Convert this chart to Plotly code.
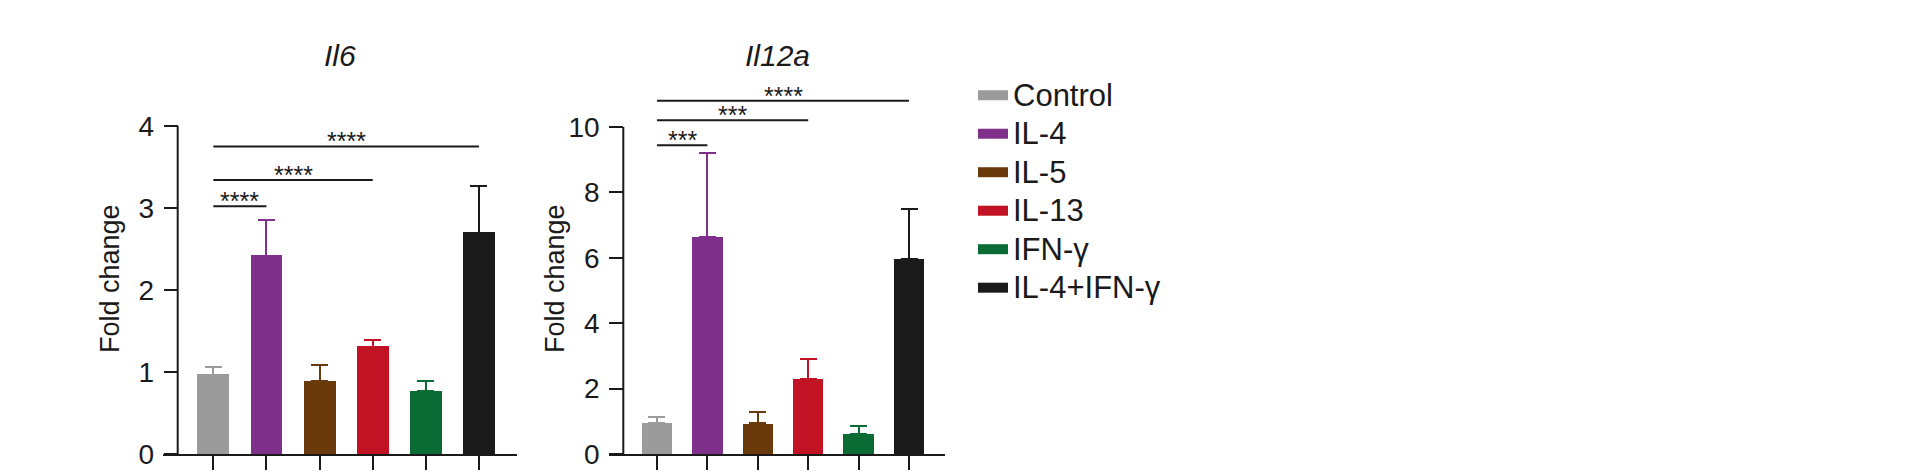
import plotly.graph_objects as go

# ---------------- data ----------------
categories = ["Control", "IL-4", "IL-5", "IL-13", "IFN-γ", "IL-4+IFN-γ"]
colors = ["#9b9b9b", "#7f308a", "#6b3a0c", "#c11324", "#0a6b34", "#1a1a1a"]

il6_mean = [0.97, 2.42, 0.89, 1.31, 0.77, 2.70]
il6_err = [0.09, 0.43, 0.20, 0.08, 0.12, 0.57]
il12a_mean = [0.96, 6.65, 0.94, 2.30, 0.62, 5.96]
il12a_err = [0.18, 2.57, 0.34, 0.61, 0.24, 1.52]

il6_ticks = [0, 1, 2, 3, 4]
il12a_ticks = [0, 2, 4, 6, 8, 10]

il6_sig_pairs = [("Control", "IL-4"), ("Control", "IL-13"), ("Control", "IL-4+IFN-γ")]
il6_sig_heights = [3.02, 3.34, 3.75]
il6_sig_labels = ["****", "****", "****"]

il12a_sig_pairs = [("Control", "IL-4"), ("Control", "IL-13"), ("Control", "IL-4+IFN-γ")]
il12a_sig_heights = [9.44, 10.21, 10.80]
il12a_sig_labels = ["***", "***", "****"]

titles = ["Il6", "Il12a"]
y_title = "Fold change"

# ---------------- layout helpers ----------------
FW, FH = 1920, 474
FONT = "Liberation Sans, Arial, sans-serif"
INK = "#1a1a1a"


def fx(p):
    return p / FW


def fy(p):
    return 1 - p / FH


panels = [
    dict(mean=il6_mean, err=il6_err, ticks=il6_ticks, pairs=il6_sig_pairs,
         heights=il6_sig_heights, labels=il6_sig_labels, title=titles[0],
         x0=163, x1=517, xr=[-0.947, 5.716], yaxis_px=177.7, ytitle_px=110,
         y0=454.3, ppu=82.1, ymax=4.3, ytop=4),
    dict(mean=il12a_mean, err=il12a_err, ticks=il12a_ticks, pairs=il12a_sig_pairs,
         heights=il12a_sig_heights, labels=il12a_sig_labels, title=titles[1],
         x0=609, x1=945, xr=[-0.952, 5.714], yaxis_px=623.3, ytitle_px=555,
         y0=454, ppu=32.7, ymax=11.6, ytop=10),
]

fig = go.Figure()
shapes = []
annotations = []
layout_axes = {}

for k, pnl in enumerate(panels):
    n = "" if k == 0 else str(k + 1)
    xa, ya = "x" + n, "y" + n
    ytop_px = pnl["y0"] - pnl["ymax"] * pnl["ppu"]

    for i, cat in enumerate(categories):
        fig.add_trace(go.Bar(
            x=[i], y=[pnl["mean"][i]], width=0.6, name=cat,
            marker=dict(color=colors[i], line=dict(width=0)),
            error_y=dict(type="data", array=[pnl["err"][i]], arrayminus=[0],
                         symmetric=False, color=colors[i], thickness=2, width=8.5),
            showlegend=False, xaxis=xa, yaxis=ya,
        ))

    layout_axes["xaxis" + n] = dict(
        domain=[fx(pnl["x0"]), fx(pnl["x1"])], range=pnl["xr"], anchor=ya,
        showline=True, linewidth=2, linecolor=INK, ticks="outside", ticklen=14,
        tickwidth=2, tickcolor=INK, tickvals=list(range(len(categories))),
        showticklabels=False, showgrid=False, zeroline=False, fixedrange=True,
    )
    layout_axes["yaxis" + n] = dict(
        domain=[fy(pnl["y0"]), fy(ytop_px)], range=[0, pnl["ymax"]],
        anchor="free", position=fx(pnl["yaxis_px"]), showline=False,
        ticks="outside", ticklen=14, tickwidth=2, tickcolor=INK,
        tickvals=pnl["ticks"], ticktext=[str(t) for t in pnl["ticks"]],
        tickfont=dict(family=FONT, size=28, color=INK), ticklabelstandoff=4,
        ticklabeloverflow="allow",
        showgrid=False, zeroline=False, fixedrange=True,
    )
    # y axis line from 0 to top tick
    shapes.append(dict(type="line", xref="paper", yref=ya,
                       x0=fx(pnl["yaxis_px"]), x1=fx(pnl["yaxis_px"]),
                       y0=0, y1=pnl["ytop"], line=dict(color=INK, width=2)))

    # y axis title
    annotations.append(dict(xref="paper", yref="paper", x=fx(pnl["ytitle_px"]),
                            y=fy(279), text=y_title, textangle=-90, showarrow=False,
                            xanchor="center", yanchor="middle",
                            font=dict(family=FONT, size=27, color=INK)))

    # significance brackets
    for (a, b), h, lab in zip(pnl["pairs"], pnl["heights"], pnl["labels"]):
        ia, ib = categories.index(a), categories.index(b)
        shapes.append(dict(type="line", xref=xa, yref=ya, x0=ia, x1=ib, y0=h, y1=h,
                           line=dict(color=INK, width=2)))
        annotations.append(dict(xref=xa, yref=ya, x=(ia + ib) / 2, y=h, text=lab,
                                showarrow=False, yanchor="middle", yshift=5,
                                font=dict(family=FONT, size=25, color=INK)))

    # panel title
    annotations.append(dict(xref="paper", yref="paper",
                            x=fx((pnl["x0"] + pnl["x1"]) / 2), y=fy(55),
                            text="<i>%s</i>" % pnl["title"], showarrow=False,
                            xanchor="center", yanchor="middle",
                            font=dict(family=FONT, size=30, color=INK)))

# legend entries (text rendered larger than the row pitch font)
for i, cat in enumerate(categories):
    fig.add_trace(go.Scatter(x=[None], y=[None], mode="lines",
                             name='<span style="font-size:31px">%s</span>' % cat,
                             line=dict(color=colors[i], width=12),
                             showlegend=True, xaxis="x", yaxis="y",
                             hoverinfo="skip"))

fig.update_layout(
    width=FW, height=FH, margin=dict(l=0, r=0, t=0, b=0, autoexpand=False),
    paper_bgcolor="white", plot_bgcolor="white",
    barmode="overlay", bargap=0,
    showlegend=True,
    legend=dict(xref="paper", yref="paper", x=fx(973), y=fy(71),
                xanchor="left", yanchor="top", bgcolor="rgba(0,0,0,0)",
                font=dict(family=FONT, size=27.3, color=INK), tracegroupgap=0,
                itemclick=False, itemdoubleclick=False),
    shapes=shapes, annotations=annotations,
    **layout_axes,
)

fig.write_html("out.html",
               config={"displayModeBar": False},
               post_script="document.body.style.margin='0';"
                           "document.body.style.overflow='hidden';")
